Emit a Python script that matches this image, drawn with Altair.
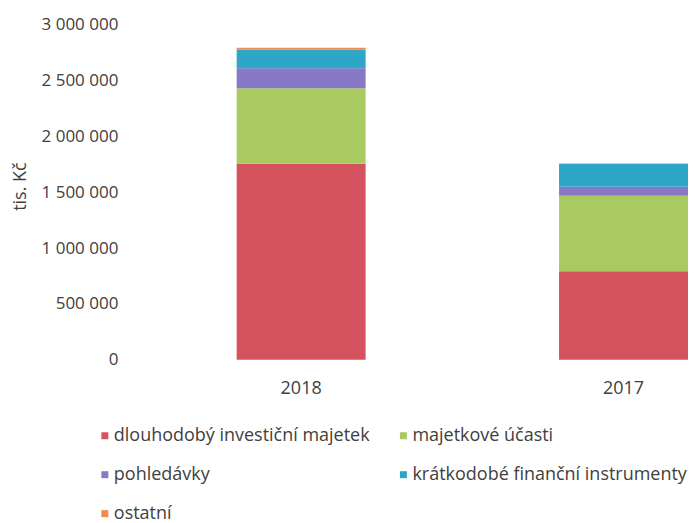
import altair as alt
import pandas as pd

years = ["2018", "2017"]
categories = [
    "dlouhodobý investiční majetek",
    "majetkové účasti",
    "pohledávky",
    "krátkodobé finanční instrumenty",
    "ostatní",
]
colors = ["#D5535F", "#A9CA60", "#8879C6", "#2EA6C8", "#F28A4E"]
values_2018 = [1753000, 676000, 178000, 169000, 15000]
values_2017 = [792000, 676000, 80000, 205000, 2000]
y_ticks = [0, 500000, 1000000, 1500000, 2000000, 2500000, 3000000]

rows = []
for i, c in enumerate(categories):
    rows.append({"rok": "2018", "kategorie": c, "poradi": i, "hodnota": values_2018[i]})
    rows.append({"rok": "2017", "kategorie": c, "poradi": i, "hodnota": values_2017[i]})
df = pd.DataFrame(rows)

FONT = "Open Sans"
TXT = "#404040"

chart = (
    alt.Chart(df)
    .mark_bar()
    .encode(
        x=alt.X(
            "rok:N",
            sort=years,
            title=None,
            scale=alt.Scale(paddingInner=0.6, paddingOuter=0),
            axis=alt.Axis(
                domain=False, ticks=False, tickSize=0, labelAngle=0,
                labelPadding=20, labelFontSize=18, labelFont=FONT, labelColor=TXT,
            ),
        ),
        y=alt.Y(
            "hodnota:Q",
            stack="zero",
            title="tis. Kč",
            scale=alt.Scale(domain=[0, 3000000], nice=False),
            axis=alt.Axis(
                values=y_ticks,
                labelExpr="replace(format(datum.value, ','), /,/g, ' ')",
                domain=False, ticks=False, tickSize=0, grid=False,
                offset=119, labelPadding=0,
                labelFontSize=17, labelFont=FONT, labelColor=TXT,
                titleFontSize=18, titleFont=FONT, titleColor=TXT,
                titleFontWeight="normal", titlePadding=12, titleY=162,
            ),
        ),
        color=alt.Color(
            "kategorie:N",
            scale=alt.Scale(domain=categories, range=colors),
            legend=alt.Legend(
                title=None,
                values=categories,
                orient="none",
                direction="horizontal",
                legendX=-141,
                legendY=403,
                columns=2,
                columnPadding=24,
                rowPadding=21,
                symbolType="square",
                symbolSize=49,
                symbolStrokeWidth=0,
                labelOffset=0,
                labelLimit=400,
                labelFontSize=18,
                labelFont=FONT,
                labelColor=TXT,
                padding=0,
            ),
        ),
        order=alt.Order("poradi:Q", sort="ascending"),
    )
    .properties(
        width=452,
        height=336,
        padding={"left": 229, "top": 16, "right": 0, "bottom": 163},
        autosize=alt.AutoSizeParams(type="none"),
    )
    .configure_view(stroke=None)
)

chart.save("out.html", embed_options={"renderer": "svg", "actions": False})
